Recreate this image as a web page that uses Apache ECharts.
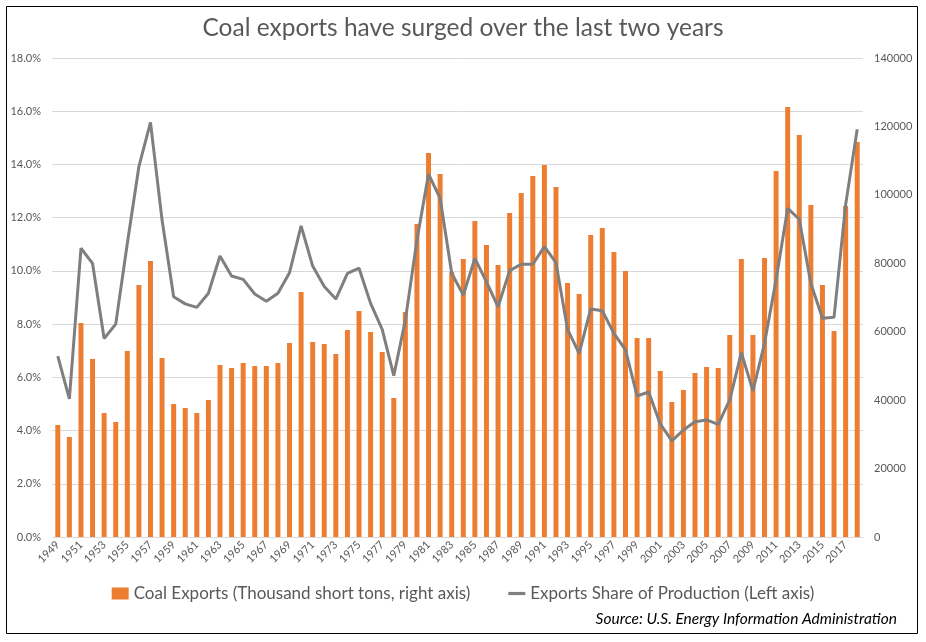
<!DOCTYPE html>
<html><head><meta charset="utf-8">
<script src="https://cdn.jsdelivr.net/npm/echarts@6/dist/echarts.min.js"></script>
<style>html,body{margin:0;padding:0;background:#fff}#c{width:926px;height:642px}</style>
</head><body><div id="c"></div>
<script>
const years = [];
for (let y = 1949; y <= 2018; y++) years.push(String(y));
const coalExports = [32735,29228,62547,52025,36242,33612,54363,73653,80668,52317,
  38873,37704,36242,40042,50271,49395,50856,49979,49979,50856,
  56702,71607,56994,56410,53487,60502,66055,59917,54071,40626,
  65763,91483,112234,106096,77454,81253,92360,85345,79500,94698,
  100544,105513,108728,102298,74239,71024,88268,90314,83299,77746,
  58163,58163,48518,39457,42965,47934,49687,49395,59040,81253,
  59040,81545,106972,125678,117495,97036,73653,60210,96744,115449];
const exportShare = [6.80,5.19,10.85,10.28,7.46,8.00,11.03,13.92,15.58,11.91,
  9.03,8.76,8.63,9.16,10.56,9.81,9.68,9.13,8.86,9.16,
  9.93,11.69,10.18,9.41,8.94,9.91,10.10,8.78,7.80,6.06,
  8.15,11.16,13.64,12.73,9.91,9.09,10.47,9.59,8.65,10.01,
  10.25,10.25,10.91,10.31,7.80,6.90,8.57,8.50,7.65,7.03,
  5.30,5.45,4.25,3.61,4.02,4.33,4.40,4.23,5.15,6.93,
  5.49,7.28,9.68,12.35,11.94,9.53,8.22,8.26,12.48,15.32];
const titleText = 'Coal exports have surged over the last two years';
const barName = 'Coal Exports (Thousand short tons, right axis)';
const lineName = 'Exports Share of Production (Left axis)';
const sourceText = 'Source: U.S. Energy Information Administration';

const font = 'Lato, "Open Sans", sans-serif';
const chart = echarts.init(document.getElementById('c'));
chart.setOption({
  animation: false,
  backgroundColor: '#fff',
  textStyle: { fontFamily: font },
  title: {
    text: titleText, left: 'center', top: 11,
    textStyle: { fontSize: 24.5, fontWeight: 'normal', color: '#595959', fontFamily: font }
  },
  legend: {
    top: 580, left: 'center', itemGap: 38, itemWidth: 17, itemHeight: 12,
    textStyle: { fontSize: 17, color: '#595959', fontFamily: font },
    data: [
      { name: barName, icon: 'rect' },
      { name: lineName, icon: 'path://M0,0 L16,0 L16,3 L0,3 Z', itemStyle: { color: '#7f7f7f' } }
    ]
  },
  grid: { left: 52, right: 63, top: 58, bottom: 105, containLabel: false },
  xAxis: {
    type: 'category', data: years, boundaryGap: true,
    axisLine: { lineStyle: { color: '#d9d9d9', width: 1 } },
    axisTick: { show: false },
    axisLabel: { interval: 1, rotate: 45, color: '#595959', fontSize: 11, margin: 6 }
  },
  yAxis: [
    {
      type: 'value', min: 0, max: 18, interval: 2, position: 'left',
      axisLabel: { formatter: v => v.toFixed(1) + '%', color: '#595959', fontSize: 11, margin: 11 },
      splitLine: { lineStyle: { color: '#d9d9d9' } },
      axisLine: { show: false }, axisTick: { show: false }
    },
    {
      type: 'value', min: 0, max: 140000, interval: 20000, position: 'right',
      axisLabel: { formatter: v => String(v), color: '#595959', fontSize: 11, margin: 11 },
      splitLine: { show: false },
      axisLine: { show: false }, axisTick: { show: false }
    }
  ],
  series: [
    {
      name: barName, type: 'bar', yAxisIndex: 1, data: coalExports,
      barWidth: '43%', itemStyle: { color: '#ed7d31' }
    },
    {
      name: lineName, type: 'line', yAxisIndex: 0, data: exportShare,
      symbol: 'none', lineStyle: { color: '#7f7f7f', width: 3 }, itemStyle: { color: '#7f7f7f' },
      z: 5
    }
  ],
  graphic: [
    { type: 'rect', shape: { x: 6.5, y: 6.5, width: 911, height: 627 },
      style: { fill: 'none', stroke: '#000', lineWidth: 1 }, silent: true },
    { type: 'text', right: 29, top: 611,
      style: { text: sourceText, fontSize: 15.5, fontStyle: 'italic', fill: '#000', fontFamily: font } }
  ]
});
</script></body></html>
